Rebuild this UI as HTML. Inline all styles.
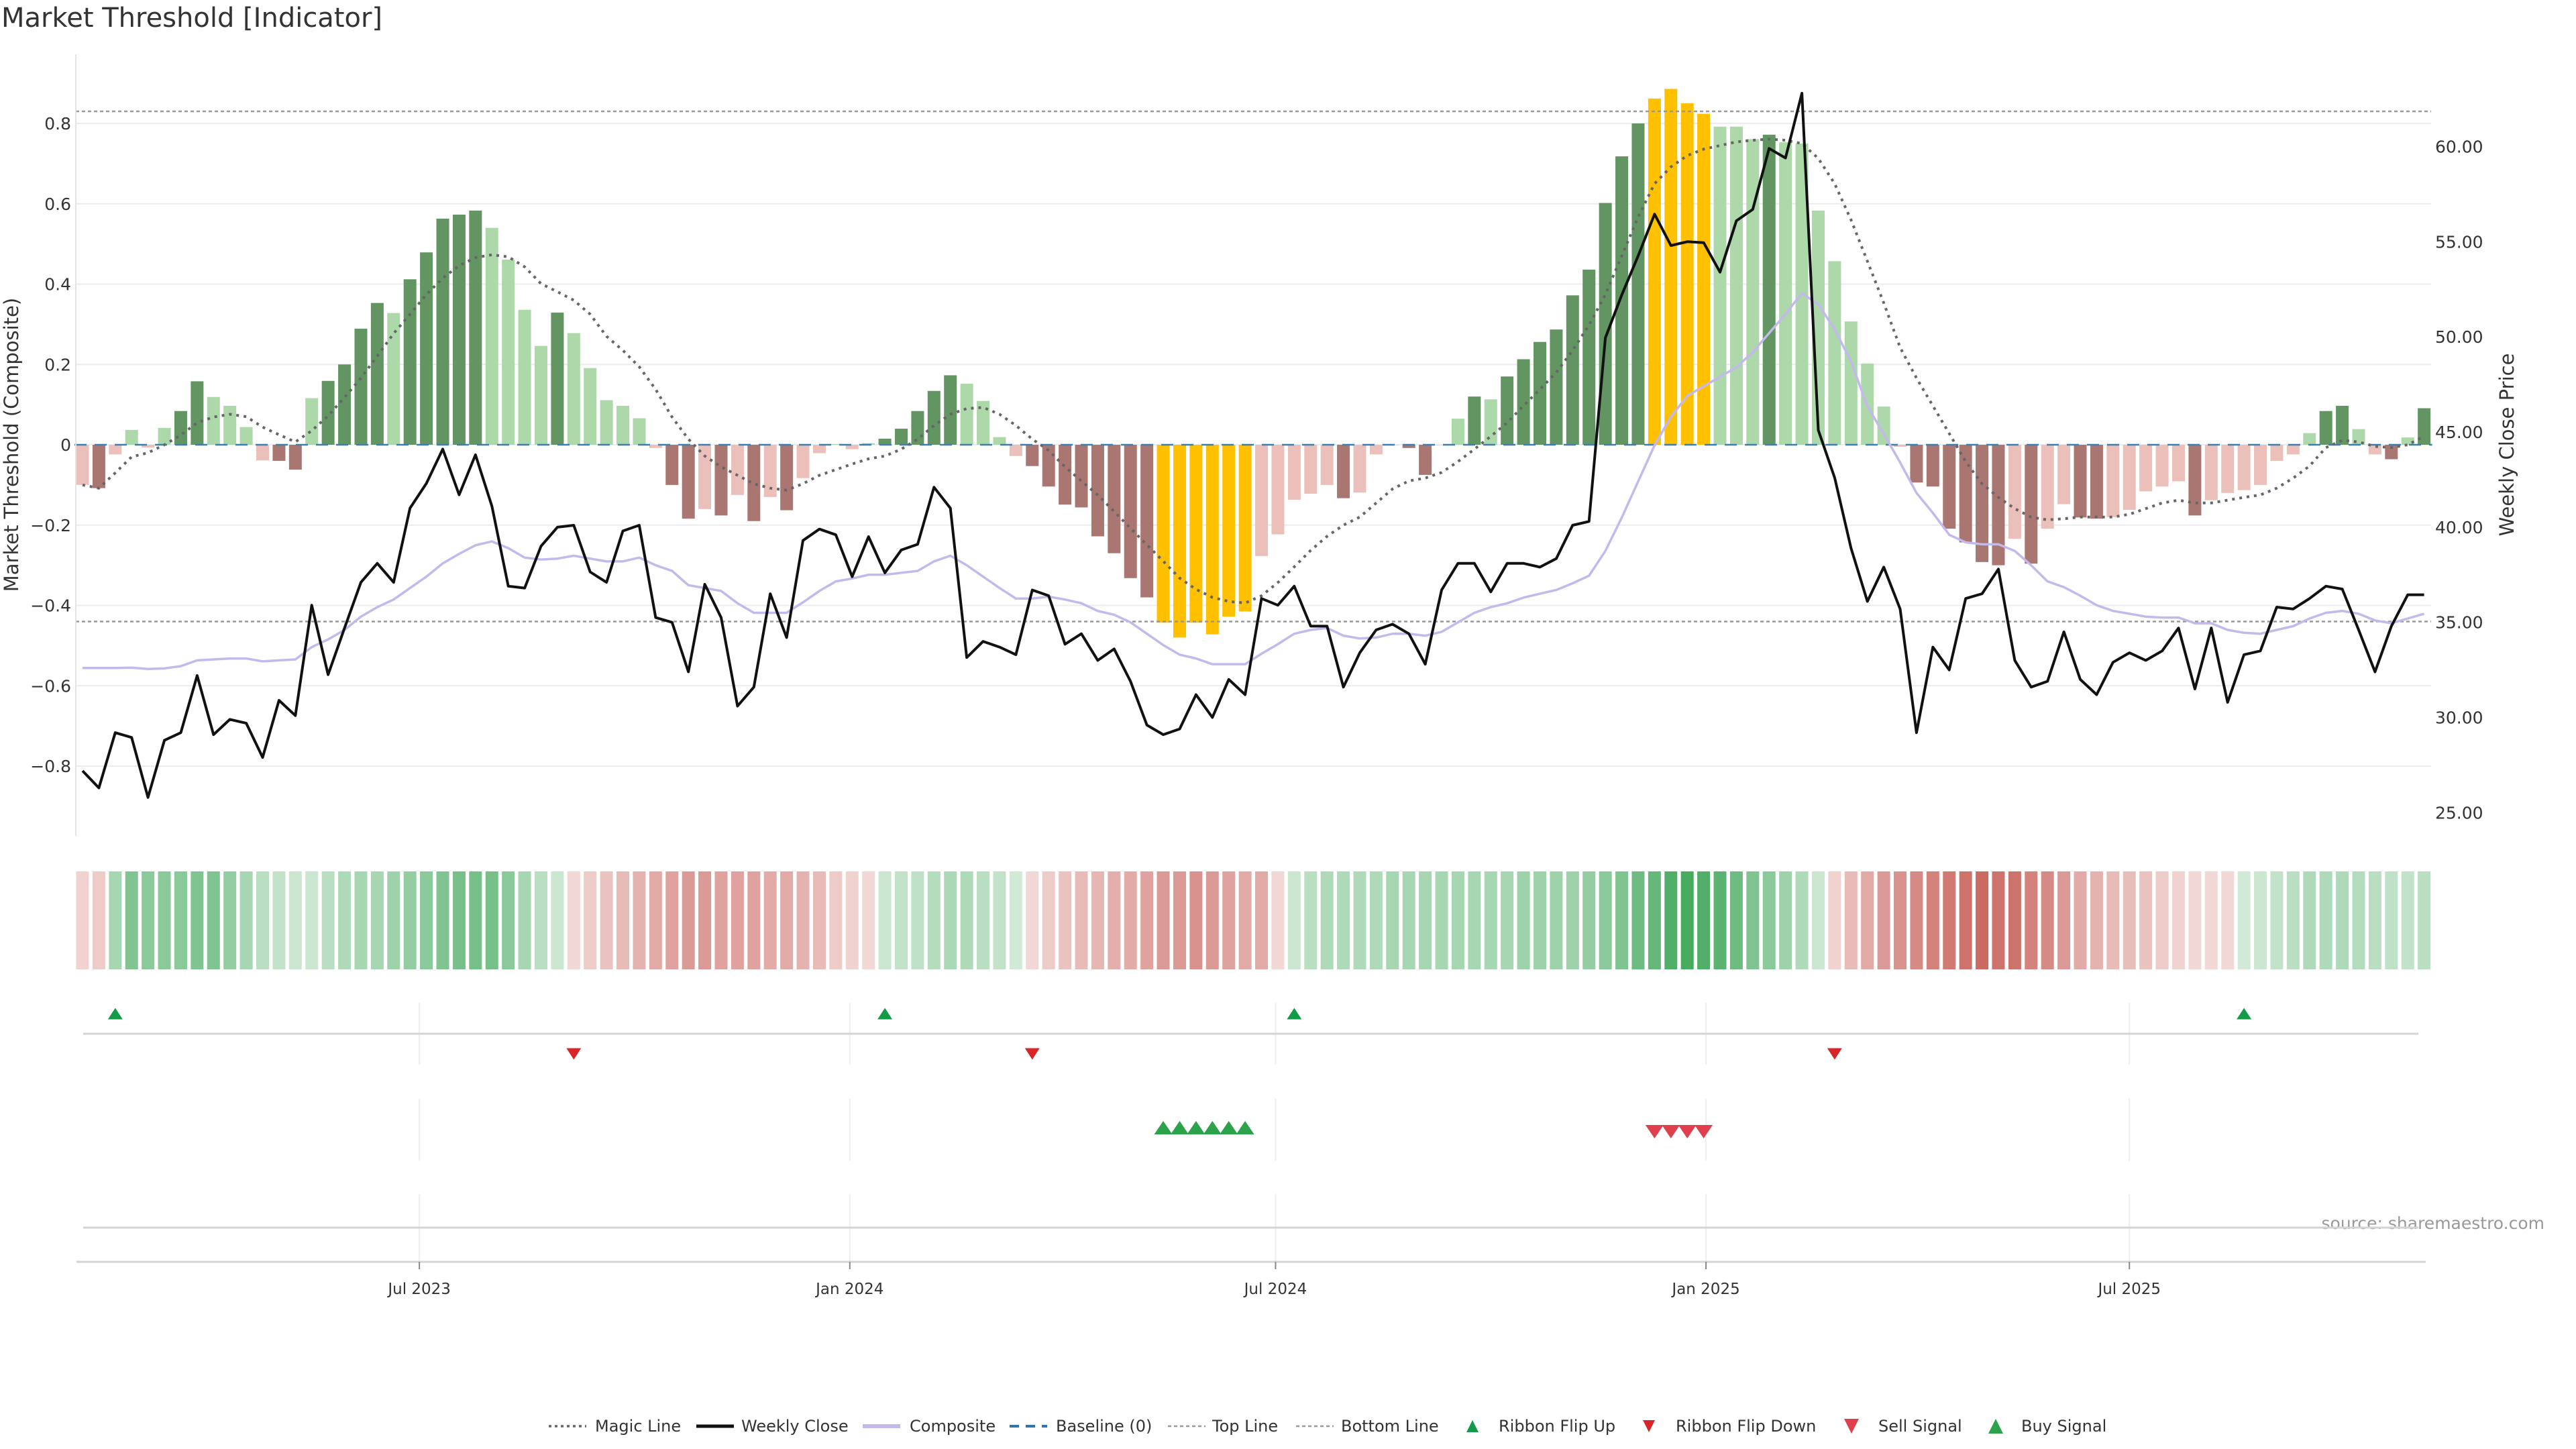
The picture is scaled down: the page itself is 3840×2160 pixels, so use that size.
<!DOCTYPE html>
<html><head><meta charset="utf-8"><title>Market Threshold [Indicator]</title>
<style>
html,body{margin:0;padding:0;background:#fff;}
svg{display:block;font-family:"DejaVu Sans","Liberation Sans",sans-serif;}
</style></head>
<body>
<svg id="chart" width="3840" height="2160" viewBox="0 0 3840 2160" xmlns="http://www.w3.org/2000/svg">
<text x="2" y="40" font-size="40" fill="#333">Market Threshold [Indicator]</text>
<text transform="translate(27,663) rotate(-90)" text-anchor="middle" font-size="29" fill="#333">Market Threshold (Composite)</text>
<text transform="translate(3747,663) rotate(-90)" text-anchor="middle" font-size="29" fill="#333">Weekly Close Price</text>
<text x="3793" y="1832" text-anchor="end" font-size="25" fill="#999">source: sharemaestro.com</text>
<g id="grid"></g><g id="bars"></g><g id="lines"></g><g id="axes"></g><g id="ribbon"></g><g id="signals"></g><g id="legend"></g>
</svg>
<script>
const closes=[27.2,26.3,29.2,28.95,25.8,28.8,29.2,32.2,29.1,29.9,29.7,27.9,30.9,30.1,35.9,32.25,34.7,37.1,38.1,37.1,41.0,42.3,44.1,41.7,43.8,41.1,36.9,36.8,39.0,40.0,40.1,37.65,37.1,39.8,40.1,35.25,35.0,32.4,37.0,35.25,30.6,31.6,36.5,34.2,39.3,39.9,39.6,37.4,39.5,
37.6,38.8,39.1,42.1,41.0,33.15,34.0,33.7,33.3,36.7,36.4,33.85,34.4,33.0,33.6,31.9,29.6,29.1,29.4,31.2,30.0,32.0,31.2,36.25,35.9,36.9,34.8,34.8,31.6,33.4,34.6,34.9,34.4,32.8,36.7,38.1,38.1,36.6,38.1,38.1,37.9,38.35,40.1,40.3,49.95,52.2,54.25,56.45,54.8,55.0,54.95,
53.4,56.1,56.7,59.9,59.4,62.8,45.1,42.6,38.9,36.1,37.9,35.7,29.2,33.7,32.5,36.25,36.5,37.8,33.0,31.6,31.9,34.5,32.0,31.2,32.9,33.4,33.0,33.5,34.7,31.5,34.7,30.8,33.3,33.5,35.8,35.7,36.25,36.9,36.75,34.6,32.4,34.8,36.45,36.45];
const thresholdBars=[-0.10,-0.108,-0.024,0.037,-0.007,0.042,0.084,0.158,0.119,0.097,0.044,-0.039,-0.04,-0.062,0.116,0.159,0.20,0.289,0.353,0.328,0.412,0.479,0.563,0.573,0.583,0.54,0.461,0.336,0.246,0.329,0.278,0.191,0.111,0.097,0.066,-0.008,-0.10,-0.184,-0.16,-0.176,-0.125,-0.19,-0.13,-0.163,-0.083,-0.021,0.002,-0.011,0.004,
0.015,0.04,0.084,0.134,0.173,0.152,0.109,0.019,-0.028,-0.053,-0.104,-0.149,-0.156,-0.228,-0.27,-0.332,-0.38,-0.443,-0.48,-0.443,-0.472,-0.428,-0.415,-0.277,-0.223,-0.137,-0.122,-0.10,-0.133,-0.119,-0.024,-0.001,-0.008,-0.075,0,0.065,0.12,0.113,0.17,0.213,0.256,0.287,0.372,0.436,0.602,0.718,0.80,0.862,0.886,0.85,0.824,
0.792,0.792,0.761,0.772,0.753,0.75,0.583,0.457,0.307,0.202,0.095,-0.005,-0.094,-0.104,-0.209,-0.243,-0.292,-0.30,-0.234,-0.296,-0.209,-0.148,-0.181,-0.184,-0.18,-0.162,-0.116,-0.104,-0.091,-0.176,-0.138,-0.12,-0.113,-0.10,-0.04,-0.024,0.029,0.084,0.097,0.039,-0.024,-0.036,0.018,0.091];
const magicLine=[-0.10,-0.108,-0.07,-0.03,-0.02,0,0.024,0.055,0.069,0.076,0.07,0.044,0.025,0.007,0.035,0.072,0.118,0.166,0.221,0.277,0.325,0.374,0.415,0.446,0.466,0.473,0.468,0.443,0.401,0.381,0.36,0.325,0.27,0.235,0.194,0.138,0.069,0.014,-0.028,-0.055,-0.076,-0.097,-0.108,-0.113,-0.097,-0.076,-0.062,-0.048,-0.035,
-0.028,-0.011,0.014,0.048,0.076,0.09,0.093,0.076,0.048,0.014,-0.014,-0.055,-0.09,-0.125,-0.166,-0.208,-0.249,-0.29,-0.332,-0.36,-0.38,-0.39,-0.394,-0.376,-0.343,-0.304,-0.263,-0.228,-0.2,-0.18,-0.145,-0.11,-0.09,-0.083,-0.069,-0.042,-0.011,0.021,0.055,0.097,0.138,0.18,0.235,0.298,0.374,0.47,0.567,0.65,0.692,0.72,0.736,
0.745,0.754,0.758,0.761,0.758,0.75,0.713,0.65,0.56,0.457,0.353,0.242,0.166,0.097,0.028,-0.042,-0.097,-0.131,-0.159,-0.18,-0.187,-0.184,-0.18,-0.18,-0.18,-0.173,-0.159,-0.145,-0.138,-0.145,-0.145,-0.138,-0.131,-0.125,-0.108,-0.083,-0.053,-0.007,0.011,0.007,-0.004,-0.007,0,0.021];
const composite=[32.6,32.6,32.6,32.62,32.55,32.58,32.7,33.0,33.05,33.1,33.1,32.95,33.0,33.05,33.7,34.1,34.6,35.3,35.8,36.2,36.8,37.4,38.1,38.6,39.05,39.25,38.9,38.4,38.3,38.35,38.5,38.35,38.2,38.2,38.4,38.0,37.7,36.95,36.8,36.65,36.0,35.5,35.5,35.5,36.05,36.65,37.15,37.3,37.5,
37.5,37.6,37.7,38.2,38.5,38.0,37.4,36.8,36.25,36.25,36.35,36.2,36.0,35.6,35.4,35.0,34.4,33.8,33.3,33.1,32.8,32.8,32.8,33.35,33.85,34.4,34.6,34.7,34.3,34.15,34.2,34.4,34.4,34.3,34.5,35.0,35.5,35.8,36.0,36.3,36.5,36.7,37.05,37.45,38.75,40.5,42.4,44.3,45.8,46.9,47.4,
47.9,48.4,49.2,50.2,51.2,52.3,51.7,50.4,48.7,46.35,44.9,43.4,41.8,40.75,39.6,39.2,39.1,39.1,38.75,38.0,37.15,36.85,36.4,35.9,35.6,35.45,35.3,35.25,35.25,34.95,34.95,34.6,34.45,34.4,34.6,34.8,35.2,35.5,35.6,35.45,35.1,34.95,35.2,35.45];
const ribbon=[-0.15,-0.2,0.35,0.55,0.5,0.5,0.5,0.55,0.55,0.45,0.35,0.25,0.2,0.15,0.15,0.25,0.3,0.35,0.35,0.4,0.45,0.5,0.55,0.6,0.6,0.6,0.5,0.35,0.25,0.15,-0.12,-0.2,-0.25,-0.3,-0.35,-0.4,-0.45,-0.5,-0.5,-0.45,-0.45,-0.45,-0.4,-0.4,-0.35,-0.3,-0.2,-0.15,-0.12,
0.15,0.2,0.22,0.28,0.32,0.3,0.25,0.2,0.12,-0.12,-0.2,-0.25,-0.3,-0.33,-0.37,-0.4,-0.45,-0.5,-0.5,-0.55,-0.5,-0.45,-0.4,-0.4,-0.12,0.15,0.25,0.3,0.3,0.3,0.3,0.35,0.35,0.35,0.35,0.35,0.35,0.35,0.35,0.4,0.4,0.4,0.4,0.45,0.5,0.55,0.65,0.7,0.8,0.85,0.8,
0.75,0.65,0.55,0.5,0.4,0.3,0.15,-0.15,-0.3,-0.4,-0.5,-0.55,-0.6,-0.65,-0.7,-0.75,-0.8,-0.75,-0.75,-0.65,-0.6,-0.5,-0.4,-0.35,-0.3,-0.28,-0.25,-0.2,-0.15,-0.12,-0.12,-0.12,0.12,0.15,0.2,0.25,0.3,0.3,0.3,0.28,0.25,0.22,0.2,0.25];
const flipUpBars=[3,50,75,133];
const flipDownBars=[31,59,108];
const buySignalBars=[67,68,69,70,71,72];
const sellSignalBars=[97,98,99,100];
const leftTicks=[-0.8,-0.6,-0.4,-0.2,0,0.2,0.4,0.6,0.8];
const rightTicks=[25,30,35,40,45,50,55,60];
const topLineValue=0.83, bottomLineValue=-0.44;
const dateTicks=["2023-07-01","2024-01-01","2024-07-01","2025-01-01","2025-07-01"];
const dateLabels=["Jul 2023","Jan 2024","Jul 2024","Jan 2025","Jul 2025"];

const NS="http://www.w3.org/2000/svg";
const X0=123, DX=24.41, PL=113, PR=3624;
const xOf=i=>X0+i*DX;
const yL=v=>663-v*598.75;
const yR=p=>644-(p-45)*28.37;
const d0=Date.UTC(2023,1,7);
const xDate=s=>{const t=Date.parse(s+"T00:00:00Z");return X0+(t-d0)/(7*864e5)*DX;};
function mk(parent,tag,attrs,text){const e=document.createElementNS(NS,tag);for(const k in attrs)e.setAttribute(k,attrs[k]);if(text!=null)e.textContent=text;document.getElementById(parent).appendChild(e);return e;}

leftTicks.forEach(v=>{
  const g=mk('grid','line',{x1:PL,x2:PR,y1:yL(v),y2:yL(v),stroke:'#ececec','stroke-width':2});
  
  
  const t=mk('axes','text',{x:106,y:yL(v)+9,'text-anchor':'end','font-size':25,fill:'#333'},v===0?'0':(v<0?'\u2212':'')+Math.abs(v).toFixed(1));
  
  
});
rightTicks.forEach(p=>{
  const t=mk('axes','text',{x:3630,y:yR(p)+9,'font-size':25,fill:'#333'},p.toFixed(2));
  
  
});
const ax=mk('axes','line',{x1:PL,x2:PL,y1:81,y2:1246,stroke:'#e4e4e4','stroke-width':2});



const buySet=new Set(buySignalBars), sellSet=new Set(sellSignalBars);
thresholdBars.forEach((v,i)=>{
  const prev=i>0?thresholdBars[i-1]:0;
  const strong=(Math.sign(v)===Math.sign(prev))&&Math.abs(v)>Math.abs(prev);
  let c=v>=0?(strong?'#629562':'#acd8aa'):(strong?'#aa7672':'#ecc0ba');
  if(buySet.has(i+1)||sellSet.has(i+1))c='#ffc000';
  const y0=yL(0),y1=yL(v);
  const r=mk('bars','rect',{x:xOf(i)-9.5,width:19,y:Math.min(y0,y1),height:Math.max(Math.abs(y1-y0),0.5),fill:c});
  
  
});

let l=mk('lines','line',{x1:PL,x2:PR,y1:yL(topLineValue),y2:yL(topLineValue),stroke:'#999','stroke-width':2.5,'stroke-dasharray':'5,4'});


l=mk('lines','line',{x1:PL,x2:PR,y1:yL(bottomLineValue),y2:yL(bottomLineValue),stroke:'#999','stroke-width':2.5,'stroke-dasharray':'5,4'});


l=mk('lines','line',{x1:X0-12,x2:xOf(143)+12,y1:yL(0),y2:yL(0),stroke:'#3a7fb0','stroke-width':2.5,'stroke-dasharray':'18,12'});



function poly(arr,fy){return arr.map((v,i)=>xOf(i).toFixed(1)+','+fy(v).toFixed(1)).join(' ');}
l=mk('lines','polyline',{points:poly(composite,yR),fill:'none',stroke:'#c4b8ec','stroke-width':3.5});


l=mk('lines','polyline',{points:poly(magicLine,yL),fill:'none',stroke:'#666','stroke-width':4,'stroke-dasharray':'4,7'});


l=mk('lines','polyline',{points:poly(closes,yR),fill:'none',stroke:'#111','stroke-width':4,'stroke-linejoin':'round'});



function mix(a,b,t){return 'rgb('+a.map((c,k)=>Math.round(c+(b[k]-c)*t)).join(',')+')';}
ribbon.forEach((v,i)=>{
  const t=Math.min(1,0.12+Math.abs(v)*0.95);
  const c=v>=0?mix([255,255,255],[58,164,84],t):mix([255,255,255],[196,86,78],t);
  const r=mk('ribbon','rect',{x:xOf(i)-9.5,width:19,y:1299,height:146,fill:c});
  
  
});

[[1495,1587],[1638,1730],[1780,1881]].forEach(([a,b])=>dateTicks.forEach(d=>{
  const g=mk('signals','line',{x1:xDate(d),x2:xDate(d),y1:a,y2:b,stroke:'#eceff2','stroke-width':2});
  
  
}));
[1541,1830].forEach(y=>{
  const h=mk('signals','line',{x1:124,x2:3605,y1:y,y2:y,stroke:'#d4d4d4','stroke-width':3});
  
  
});
l=mk('signals','line',{x1:114,x2:3616,y1:1881,y2:1881,stroke:'#d4d4d4','stroke-width':3});


dateTicks.forEach((d,k)=>{
  const x=xDate(d);
  const tk=mk('signals','line',{x1:x,x2:x,y1:1881,y2:1892,stroke:'#888','stroke-width':2});
  
  
  const t=mk('signals','text',{x:x,y:1929,'text-anchor':'middle','font-size':23,fill:'#333'},dateLabels[k]);
  
  
});
function tri(up,cx,cy,w,h,fill,name){
  const pts=up?[[cx-w/2,cy+h/2],[cx+w/2,cy+h/2],[cx,cy-h/2]]:[[cx-w/2,cy-h/2],[cx+w/2,cy-h/2],[cx,cy+h/2]];
  const p=mk('signals','polygon',{points:pts.map(q=>q.join(',')).join(' '),fill:fill});
  
  
}
flipUpBars.forEach(b=>tri(true,xOf(b-1),1511,22,17,'#139b48','ribbon-flip-up'));
flipDownBars.forEach(b=>tri(false,xOf(b-1),1571,22,17,'#d92428','ribbon-flip-down'));
buySignalBars.forEach(b=>tri(true,xOf(b-1),1681,27,20,'#2ca24a','buy-signal'));
sellSignalBars.forEach(b=>tri(false,xOf(b-1),1687,27,20,'#e0404d','sell-signal'));

const LY=2126;
function legLine(x,stroke,w,dash,label,tx,name){
  const g=mk('legend','g',{});
  
  
  const ln=document.createElementNS(NS,'line');
  [['x1',x],['x2',x+56],['y1',LY],['y2',LY],['stroke',stroke],['stroke-width',w]].forEach(a=>ln.setAttribute(a[0],a[1]));
  if(dash)ln.setAttribute('stroke-dasharray',dash);
  g.appendChild(ln);
  const t=document.createElementNS(NS,'text');
  t.setAttribute('x',tx);t.setAttribute('y',LY+8);t.setAttribute('font-size',24);t.setAttribute('fill','#333');
  t.textContent=label;g.appendChild(t);
}
legLine(818,'#666',3.5,'4,5','Magic Line',887,'legend-magic-line');
legLine(1038,'#111',5,null,'Weekly Close',1105,'legend-weekly-close');
legLine(1286,'#c4b8ec',6,null,'Composite',1356,'legend-composite');
legLine(1505,'#2f75ad',4,'14,10','Baseline (0)',1574,'legend-baseline');
legLine(1741,'#999',2.5,'5,4','Top Line',1807,'legend-top-line');
legLine(1932,'#999',2.5,'5,4','Bottom Line',1999,'legend-bottom-line');
function legTri(up,x,fill,w,h,label,tx,name){
  const g=mk('legend','g',{});
  
  
  const p=document.createElementNS(NS,'polygon');
  const pts=up?[[x-w/2,LY+h/2],[x+w/2,LY+h/2],[x,LY-h/2]]:[[x-w/2,LY-h/2],[x+w/2,LY-h/2],[x,LY+h/2]];
  p.setAttribute('points',pts.map(q=>q.join(',')).join(' '));p.setAttribute('fill',fill);g.appendChild(p);
  const t=document.createElementNS(NS,'text');
  t.setAttribute('x',tx);t.setAttribute('y',LY+8);t.setAttribute('font-size',24);t.setAttribute('fill','#333');
  t.textContent=label;g.appendChild(t);
}
legTri(true,2195,'#139b48',18,18,'Ribbon Flip Up',2234,'legend-ribbon-flip-up');
legTri(false,2458,'#d92428',18,18,'Ribbon Flip Down',2498,'legend-ribbon-flip-down');
legTri(false,2760,'#e0404d',22,22,'Sell Signal',2800,'legend-sell-signal');
legTri(true,2975,'#2ca24a',22,22,'Buy Signal',3013,'legend-buy-signal');
</script>
</body></html>
